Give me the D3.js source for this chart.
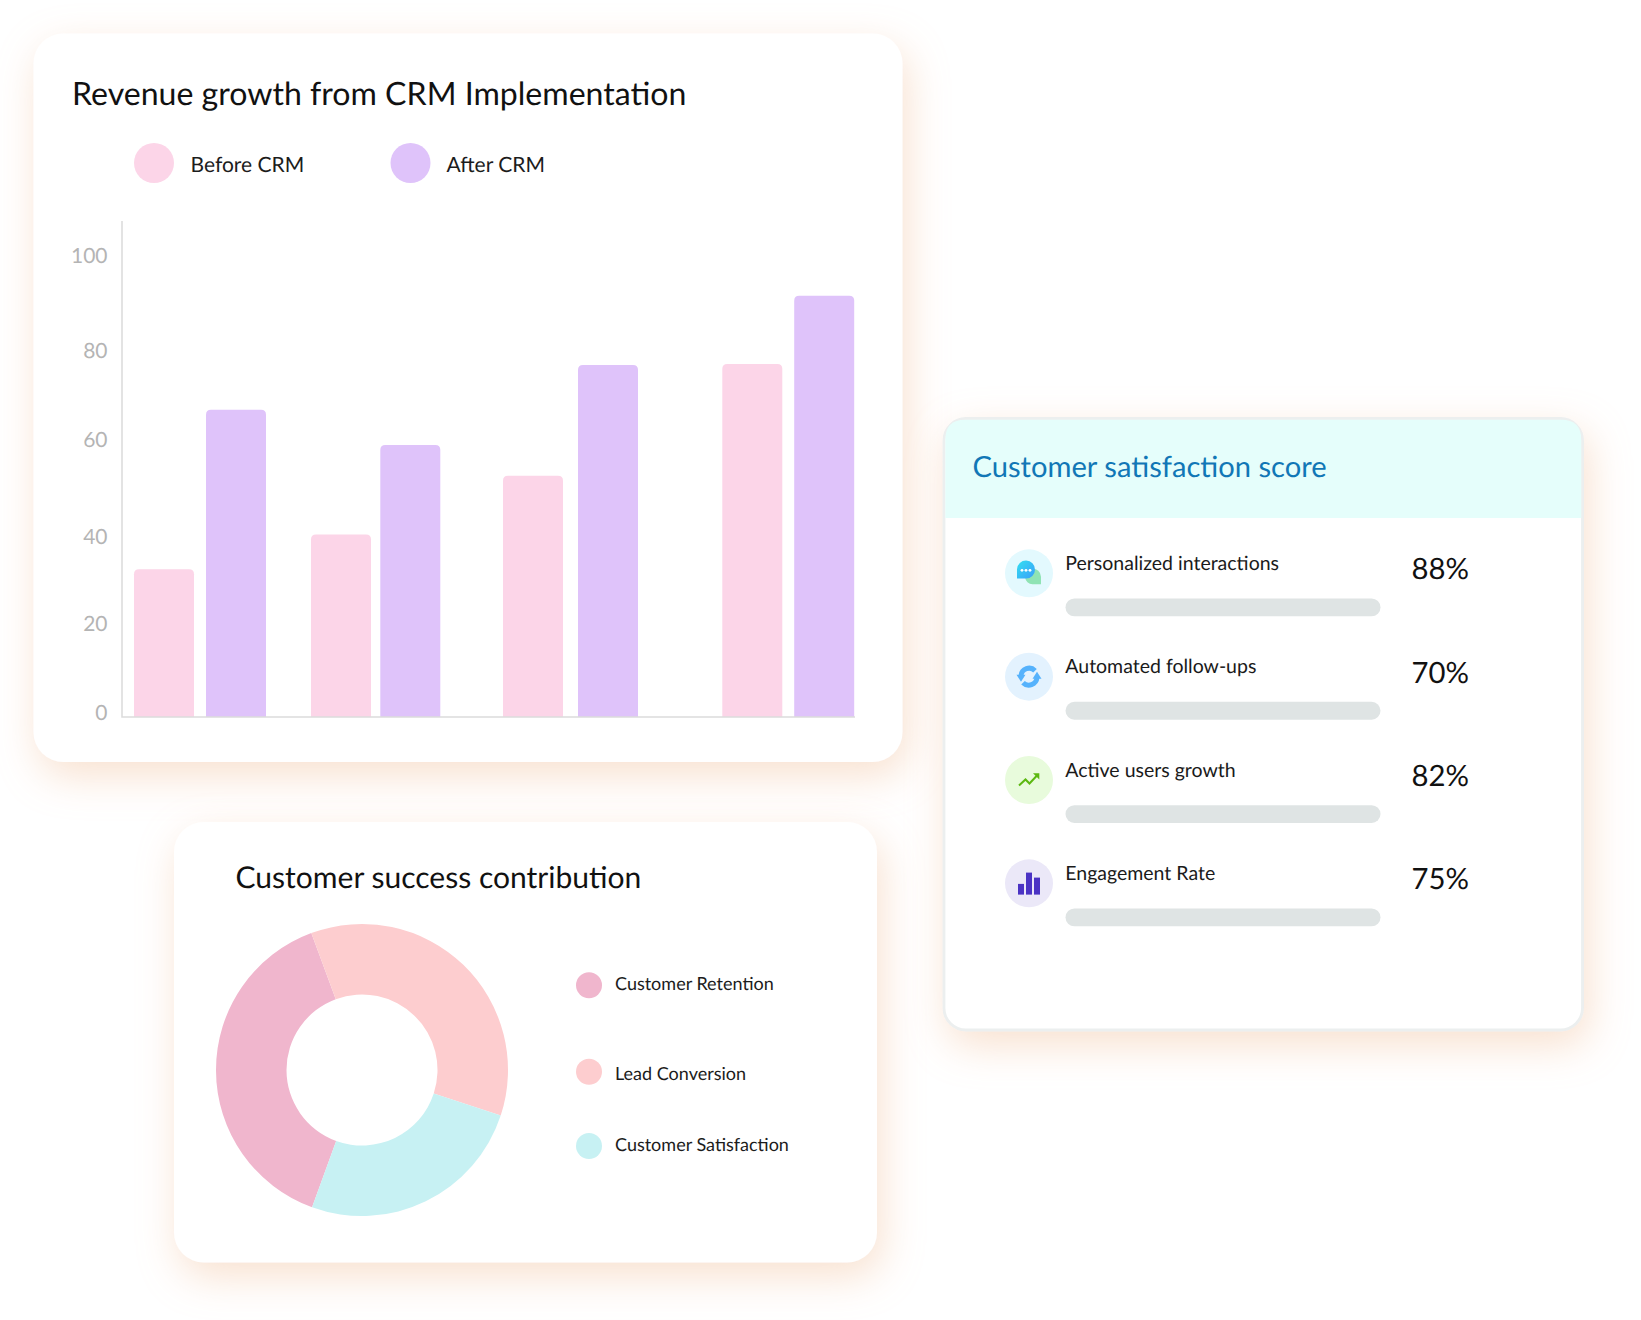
<!DOCTYPE html>
<html><head><meta charset="utf-8">
<script src="https://cdn.jsdelivr.net/npm/d3@7"></script>
<style>
html,body{margin:0;padding:0;background:#fff}
svg{display:block}
text{font-family:Lato,Carlito,"Noto Sans",sans-serif;font-feature-settings:"liga" 1;text-rendering:geometricPrecision}
</style></head><body>
<svg id="c" width="1641" height="1320" viewBox="0 0 1641 1320"></svg>
<script>
// ---- data ----
const groupKeys = [0, 1, 2, 3];
const beforeCRM = [32, 39.5, 52.2, 76.4];
const afterCRM = [66.5, 58.9, 76.2, 91.2];
const seriesNames = ["Before CRM", "After CRM"];
const seriesColors = ["#fcd5e8", "#dfc3fa"];
const yTicks = [0, 20, 40, 60, 80, 100];

const donutLabels = ["Customer Retention", "Lead Conversion", "Customer Satisfaction"];
const donutValues = [38.8, 35.7, 25.5];
const donutColors = ["#f0b6cd", "#fdcdcf", "#c7f1f3"];

const scoreLabels = ["Personalized interactions", "Automated follow-ups", "Active users growth", "Engagement Rate"];
const scoreValues = [88, 70, 82, 75];
const iconBg = ["#e3f9fe", "#e3f2fe", "#e8fbdc", "#ebe8f8"];

// ---- layout ----
const svg = d3.select("#c");
const defs = svg.append("defs");
const f = defs.append("filter").attr("id","sh").attr("x","-15%").attr("y","-15%").attr("width","130%").attr("height","135%");
f.append("feDropShadow").attr("dx",5).attr("dy",14).attr("stdDeviation",20).attr("flood-color","#f2c09a").attr("flood-opacity",0.47);
const g1 = defs.append("linearGradient").attr("id","chat").attr("x1",0).attr("y1",0).attr("x2",1).attr("y2",1);
g1.append("stop").attr("offset","0").attr("stop-color","#33e0f0");
g1.append("stop").attr("offset","1").attr("stop-color","#3a9dfa");

function card(x0,y0,x1,y1,r){
  return svg.append("rect").attr("x",x0).attr("y",y0).attr("width",x1-x0).attr("height",y1-y0).attr("rx",r).attr("fill","#fff").attr("filter","url(#sh)");
}
function txt(x,y,s,size,fill,anchor){
  return svg.append("text").attr("x",x).attr("y",y).attr("dy","0.35em").attr("font-size",size).attr("fill",fill).attr("text-anchor",anchor||"start").text(s);
}

// ---- card 1: bars ----
card(33.5,33.5,902.5,762,30);
txt(72,93.5,"Revenue growth from CRM Implementation",32.1,"#111");
const legendX = [154,410.5], legendTextX = [190.5,446.5];
seriesNames.forEach((n,i)=>{
  svg.append("circle").attr("cx",legendX[i]).attr("cy",163).attr("r",20).attr("fill",seriesColors[i]);
  txt(legendTextX[i],164.5,n,21,"#1c1c1c");
});
const baseY = 717;
const y = d3.scaleLinear().domain([0,100]).range([baseY,255]);
const beforeX = d3.scaleOrdinal(groupKeys,[134,311,503,722.3]);
const afterX = d3.scaleOrdinal(groupKeys,[206,380.3,578,794.2]);
const barW = 60;
function topRoundBar(x,v){
  const t=y(v), r=5;
  return `M${x},${baseY}V${t+r}Q${x},${t} ${x+r},${t}H${x+barW-r}Q${x+barW},${t} ${x+barW},${t+r}V${baseY}Z`;
}
svg.append("g").selectAll("path").data(groupKeys).join("path").attr("d",k=>topRoundBar(beforeX(k),beforeCRM[k])).attr("fill",seriesColors[0]);
svg.append("g").selectAll("path").data(groupKeys).join("path").attr("d",k=>topRoundBar(afterX(k),afterCRM[k])).attr("fill",seriesColors[1]);
svg.append("path").attr("d",`M122,221V${baseY}H855`).attr("fill","none").attr("stroke","#dcdcdc").attr("stroke-width",1.6);
// tick labels follow the picture's own (slightly uneven) label spacing
const yLabel = d3.scaleLinear().domain(yTicks).range([712.5,623.5,536,439,350.5,255.5]);
const ax = svg.append("g").attr("transform","translate(107.5,0)").call(d3.axisLeft(yLabel).tickValues(yTicks).tickSize(0).tickPadding(0));
ax.select(".domain").remove();
ax.selectAll("text").attr("font-size",21).attr("fill","#b4b4b4").attr("font-weight",400).attr("dy","0.35em");

// ---- card 2: donut ----
card(174,822,877,1262.5,30);
txt(235.5,877.5,"Customer success contribution",30.05,"#111");
const start = 200*Math.PI/180;
const pie = d3.pie().sort(null).startAngle(start).endAngle(start+2*Math.PI);
const arc = d3.arc().innerRadius(75.5).outerRadius(146);
svg.append("g").attr("transform","translate(362,1070)").selectAll("path").data(pie(donutValues)).join("path").attr("d",arc).attr("fill",(d,i)=>donutColors[i]);
const legendCY = d3.scaleOrdinal(donutLabels,[985.3,1071.7,1146]);
const legendTY = d3.scaleOrdinal(donutLabels,[983.5,1073.5,1144.5]);
donutLabels.forEach((n,i)=>{
  svg.append("circle").attr("cx",589).attr("cy",legendCY(n)).attr("r",13).attr("fill",donutColors[i]);
  txt(615,legendTY(n),n,18,"#1c1c1c");
});

// ---- card 3: scores ----
card(944,418.5,1582.5,1030,22).attr("stroke","#ecefef").attr("stroke-width",2.8);
const hx0=945.3,hx1=1581.2,hy0=419.8,hy1=518,hr=20;
svg.append("path").attr("d",`M${hx0},${hy1}V${hy0+hr}Q${hx0},${hy0} ${hx0+hr},${hy0}H${hx1-hr}Q${hx1},${hy0} ${hx1},${hy0+hr}V${hy1}Z`).attr("fill","#e5fefb");
txt(972.5,466.5,"Customer satisfaction score",29.15,"#1177b6");
const rowY = d3.scalePoint().domain(scoreLabels).range([573.3,883.3]);
scoreLabels.forEach((n,i)=>{
  const cy=rowY(n);
  svg.append("circle").attr("cx",1029).attr("cy",cy).attr("r",24).attr("fill",iconBg[i]);
  txt(1065.3,cy-10,n,19.5,"#1a1a1a");
  svg.append("rect").attr("x",1065.5).attr("y",cy+25.2).attr("width",315).attr("height",17.8).attr("rx",8.9).attr("fill","#dfe4e4");
  txt(1411.5,cy-4.2,scoreValues[i]+"%",29.3,"#111");
});
// icons
const ic = i=>svg.append("g").attr("transform",`translate(1029,${rowY(scoreLabels[i])})`);
const a = ic(0);
a.append("path").attr("d","M3,-4.5A8,8 0 0 1 12,3.5V11H3.5A8,8 0 0 1 -4,4Z").attr("fill","#8fe3b4");
a.append("path").attr("d","M-12,-4A9,9 0 1 1 -3,5.3H-12Z").attr("fill","url(#chat)");
[-7,-3,1].forEach(dx=>a.append("circle").attr("cx",dx).attr("cy",-3).attr("r",1.4).attr("fill","#fff"));
const b = ic(1);
const blue="#55b2fc";
b.append("path").attr("d","M-8,-1A8.2,8.2 0 0 1 6,-6").attr("fill","none").attr("stroke",blue).attr("stroke-width",5);
b.append("path").attr("d","M8,1A8.2,8.2 0 0 1 -6,6").attr("fill","none").attr("stroke",blue).attr("stroke-width",5);
b.append("path").attr("d","M-12.5,-2L-3.5,-2L-8,5Z").attr("fill",blue);
b.append("path").attr("d","M12.5,2L3.5,2L8,-5Z").attr("fill",blue);
const c = ic(2);
c.append("path").attr("d","M-10,5.5L-3.5,-0.5L0.5,3.5L8,-4.5").attr("fill","none").attr("stroke","#5cb811").attr("stroke-width",2);
c.append("path").attr("d","M4,-6.7H10.3V-0.4Z").attr("fill","#5cb811");
const e = ic(3);
[[-11,-7.7,6,10.7],[-3,-19,6,22],[5,-14,6,17]].forEach(r=>e.append("rect").attr("x",r[0]).attr("y",r[1]+8.3).attr("width",r[2]).attr("height",r[3]).attr("fill","#4b33c4"));
</script>
</body></html>
